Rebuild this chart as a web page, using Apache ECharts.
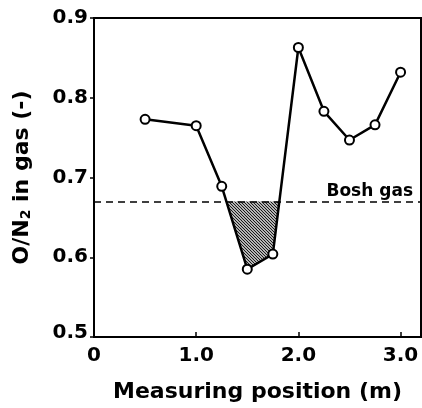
<!DOCTYPE html>
<html>
<head>
<meta charset="utf-8">
<script src="https://cdn.jsdelivr.net/npm/echarts@6/dist/echarts.min.js"></script>
<style>
  html, body { margin: 0; background: #fff; }
  #main { width: 422px; height: 408px; }
</style>
</head>
<body>
<div id="main"></div>
<script>
// measured O/N2 ratio along the furnace
const positions = [0.5, 1.0, 1.25, 1.5, 1.75, 2.0, 2.25, 2.5, 2.75, 3.0];
const ratios = [0.773, 0.765, 0.689, 0.585, 0.604, 0.863, 0.783, 0.747, 0.766, 0.832];
const boshGas = 0.67;
const xTicks = [0, 1, 2, 3];

const FONT = '"DejaVu Sans", sans-serif';

// points of the curve below the bosh gas line (with crossings)
function belowPolygon() {
    const pts = [];
    for (let i = 0; i < positions.length; i++) {
        const x0 = positions[i], y0 = ratios[i];
        if (i > 0) {
            const xp = positions[i - 1], yp = ratios[i - 1];
            if ((yp - boshGas) * (y0 - boshGas) < 0) {
                const t = (yp - boshGas) / (yp - y0);
                pts.push([xp + t * (x0 - xp), boshGas]);
            }
        }
        if (y0 < boshGas) pts.push([x0, y0]);
    }
    return pts;
}

function hatch() {
    const c = document.createElement('canvas');
    c.width = 3; c.height = 3;
    const ctx = c.getContext('2d');
    ctx.fillStyle = '#fff';
    ctx.fillRect(0, 0, 3, 3);
    ctx.strokeStyle = '#111';
    ctx.lineWidth = 1.2;
    ctx.beginPath();
    ctx.moveTo(-1, -1); ctx.lineTo(4, 4);
    ctx.moveTo(-1, 2); ctx.lineTo(1, 4);
    ctx.moveTo(2, -1); ctx.lineTo(4, 1);
    ctx.stroke();
    return c;
}

const chart = echarts.init(document.getElementById('main'));
const poly = belowPolygon();

chart.setOption({
    animation: false,
    grid: { left: 94, right: 1, top: 18, bottom: 67, show: true, borderColor: '#000', borderWidth: 2 },
    xAxis: {
        type: 'value', min: 0, max: 3.2,
        name: 'Measuring position (m)', nameLocation: 'middle', nameGap: 44,
        nameTextStyle: { fontFamily: FONT, fontSize: 22, fontWeight: 'bold', color: '#000' },
        axisLine: { lineStyle: { color: '#000', width: 2 } },
        axisTick: { inside: true, length: 5, customValues: xTicks, lineStyle: { color: '#000', width: 1.5 } },
        axisLabel: {
            customValues: xTicks, margin: 9,
            fontFamily: FONT, fontSize: 20, fontWeight: 'bold', color: '#000',
            formatter: v => v === 0 ? '0' : v.toFixed(1)
        },
        splitLine: { show: false }
    },
    yAxis: {
        type: 'value', min: 0.5, max: 0.9, interval: 0.1,
        name: 'O/N{sub|2} in gas (-)', nameLocation: 'middle', nameGap: 61,
        nameTextStyle: {
            fontFamily: FONT, fontSize: 22, fontWeight: 'bold', color: '#000',
            rich: { sub: { fontFamily: FONT, fontSize: 14, fontWeight: 'bold', color: '#000', verticalAlign: 'bottom', padding: [8, 0, 0, 0] } }
        },
        axisLine: { lineStyle: { color: '#000', width: 2 } },
        axisTick: { length: 4, lineStyle: { color: '#000', width: 1.5 } },
        axisLabel: {
            margin: 6, fontFamily: FONT, fontSize: 20, fontWeight: 'bold', color: '#000',
            formatter: v => v === 0.5 ? '{low|0.5}' : v.toFixed(1),
            rich: { low: { fontFamily: FONT, fontSize: 20, fontWeight: 'bold', color: '#000', padding: [0, 0, 8, 0] } }
        },
        splitLine: { show: false }
    },
    series: [
        {
            type: 'custom',
            silent: true,
            z: 1,
            data: [0],
            renderItem: (params, api) => {
                const pts = poly.map(p => api.coord(p));
                return {
                    type: 'polygon',
                    shape: { points: pts },
                    style: { fill: { image: hatch(), repeat: 'repeat' }, stroke: null }
                };
            }
        },
        {
            type: 'line',
            z: 3,
            data: positions.map((x, i) => [x, ratios[i]]),
            symbol: 'circle', symbolSize: 9,
            itemStyle: { color: '#fff', borderColor: '#000', borderWidth: 2 },
            lineStyle: { color: '#000', width: 2.5 },
            markLine: {
                silent: true, symbol: 'none',
                lineStyle: { color: '#000', width: 1.5, type: [7, 5] },
                label: {
                    position: 'insideEndTop', formatter: 'Bosh gas',
                    fontFamily: FONT, fontSize: 17, fontWeight: 'bold', color: '#000', distance: [8, 1]
                },
                data: [{ yAxis: boshGas }]
            }
        }
    ]
});
</script>
</body>
</html>
